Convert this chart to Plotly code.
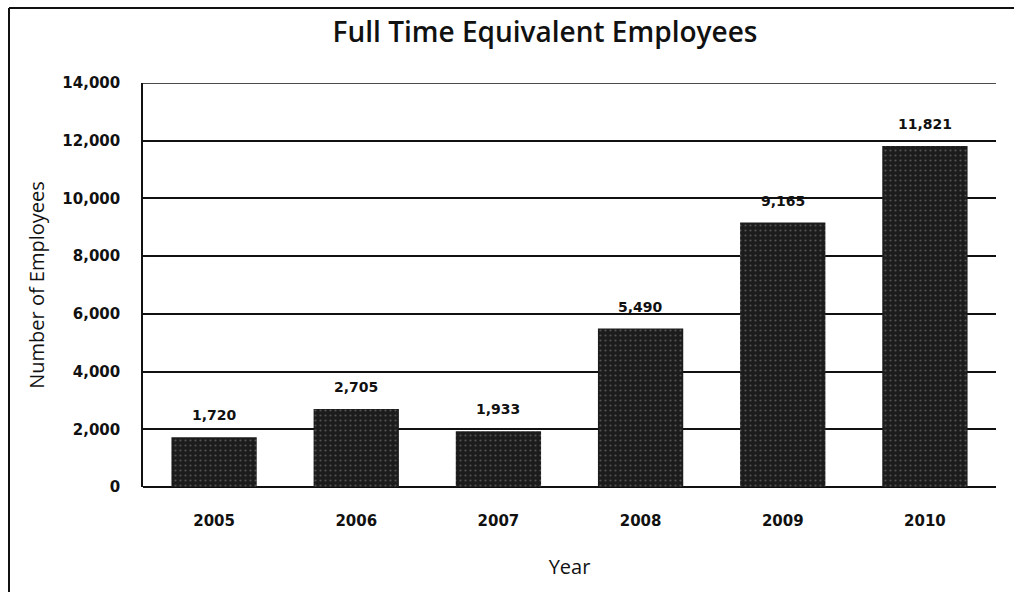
import plotly.graph_objects as go

years = ["2005", "2006", "2007", "2008", "2009", "2010"]
employees = [1720, 2705, 1933, 5490, 9165, 11821]
labels = ["1,720", "2,705", "1,933", "5,490", "9,165", "11,821"]
y_ticks = [0, 2000, 4000, 6000, 8000, 10000, 12000, 14000]
y_tick_text = ["0", "2,000", "4,000", "6,000", "8,000", "10,000", "12,000", "14,000"]

W, H = 1014, 592
L, R, T, B = 143, 18, 83, 105
pw, ph = W - L - R, H - T - B

def px(x):
    return (x - L) / pw

def py(y):
    return (H - B - y) / ph

FONT = "Open Sans"
TICKFONT = "DejaVu Sans"

fig = go.Figure()
fig.add_trace(go.Bar(
    x=years, y=employees,
    width=0.6,
    marker=dict(color="#1c1c1c", line=dict(width=0),
                pattern=dict(shape=".", fgcolor="#8a8a8a", bgcolor="#1c1c1c",
                             size=5, solidity=0.15)),
    hoverinfo="x+y",
))

for i, (v, t) in enumerate(zip(employees, labels)):
    fig.add_annotation(x=i, y=v, text=t, showarrow=False, yshift=22,
                       font=dict(family=TICKFONT, size=14, color="#111", weight="bold"))

fig.update_layout(
    width=W, height=H,
    margin=dict(l=L, r=R, t=T, b=B, autoexpand=False),
    paper_bgcolor="white", plot_bgcolor="white",
    showlegend=False,
    title=dict(text="Full Time Equivalent Employees",
               x=545 / W, xanchor="center", y=1 - 32 / H, yanchor="middle",
               font=dict(family=FONT, size=28, color="#111", weight=600)),
    font=dict(family=FONT, color="#111"),
    bargap=0.4,
)

fig.update_xaxes(
    type="category", categoryorder="array", categoryarray=years,
    range=[-0.5, len(years) - 0.5], automargin=False,
    showgrid=False, showline=False, zeroline=False,
    ticks="outside", ticklen=20, tickcolor="rgba(0,0,0,0)",
    tickfont=dict(family=TICKFONT, size=15, color="#111", weight="bold"),
    title=dict(text="Year", standoff=30,
               font=dict(family=FONT, size=20, color="#111", weight=500)),
)
fig.update_yaxes(
    automargin=False,
    range=[0, 14000], tickvals=y_ticks, ticktext=y_tick_text,
    showgrid=True, gridcolor="#111", gridwidth=1.5,
    zeroline=True, zerolinecolor="#111", zerolinewidth=2,
    showline=True, linecolor="#111", linewidth=1.5,
    ticks="outside", ticklen=18, tickcolor="rgba(0,0,0,0)",
    tickfont=dict(family=TICKFONT, size=15, color="#111", weight="bold"),
    title=dict(text="Number of Employees", standoff=12,
               font=dict(family=FONT, size=20, color="#111", weight=500)),
)

# top gridline at the axis maximum
fig.add_shape(type="line", xref="paper", yref="y",
              x0=0, x1=1, y0=y_ticks[-1], y1=y_ticks[-1],
              line=dict(color="#111", width=1.5))

# outer frame (top and left edges of the scanned page box)
fig.add_shape(type="line", xref="paper", yref="paper",
              x0=px(9), x1=px(1014), y0=py(8), y1=py(8),
              line=dict(color="#111", width=2))
fig.add_shape(type="line", xref="paper", yref="paper",
              x0=px(9), x1=px(9), y0=py(8), y1=py(592),
              line=dict(color="#111", width=2))

fig.write_html("out.html", config={"displayModeBar": False},
               post_script="document.body.style.margin='0';document.body.style.overflow='hidden';")
